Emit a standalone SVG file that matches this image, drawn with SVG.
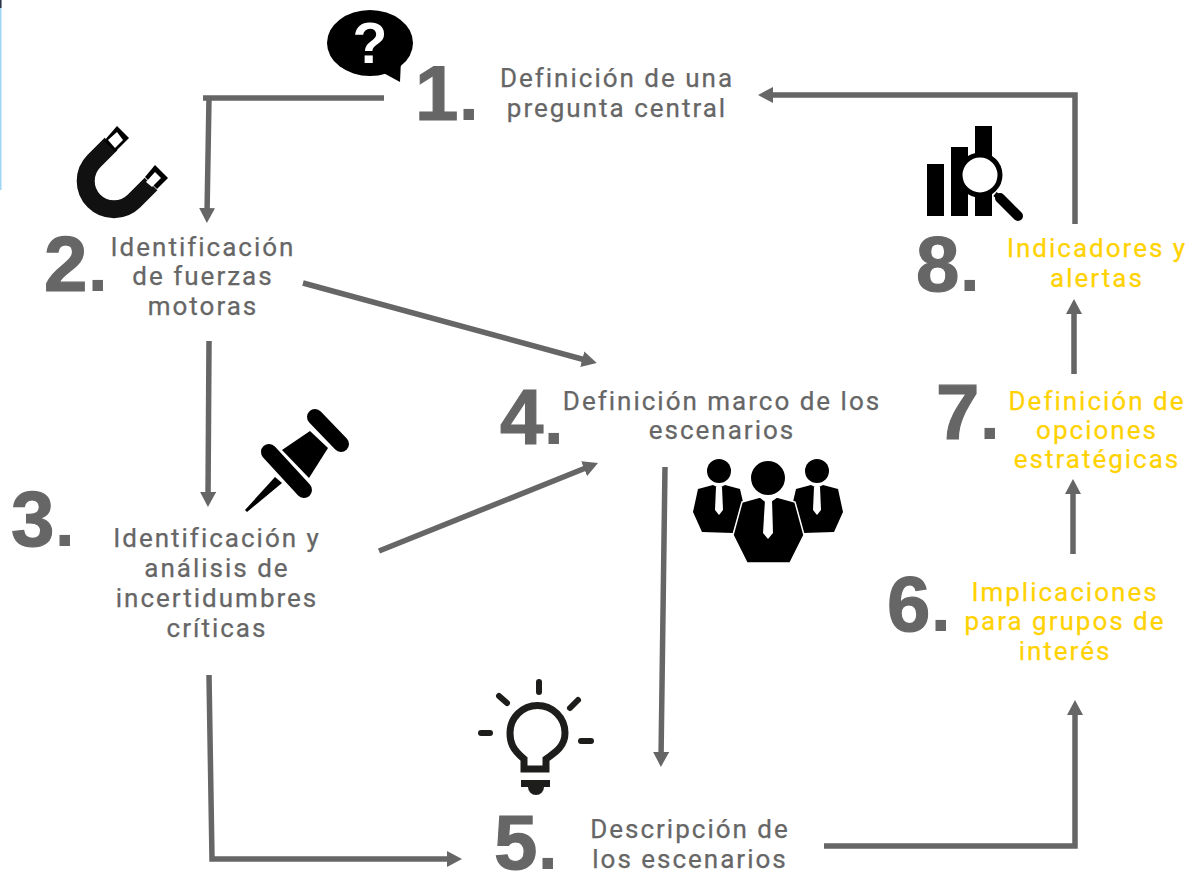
<svg xmlns="http://www.w3.org/2000/svg" width="1204" height="874" viewBox="0 0 1204 874">
<defs>
<marker id="ah" markerUnits="userSpaceOnUse" markerWidth="16" markerHeight="16" refX="7" refY="8" orient="auto"><path d="M0 0L15 8L0 16Z" fill="#666"/></marker>
</defs>
<style>
.n{font-family:"Liberation Sans",Arial,sans-serif;font-weight:700;font-size:78px;fill:#666;stroke:#666;stroke-width:1.2px}
.n tspan{stroke:none;font-size:74px}
.t{font-family:Roboto,"Noto Sans",sans-serif;font-size:26px;letter-spacing:2px;fill:#666;text-anchor:middle;stroke:#666;stroke-width:.25px}
.t.y{fill:#ffd200;stroke:#ffd200}
.c{fill:none;stroke:#666;stroke-width:5.5}
.k{fill:#000}
.w{fill:#fff}
</style>
<rect width="1204" height="874" fill="#fff"/>
<rect x="0" y="0" width="1.5" height="190" fill="#9fd6f2"/>
<rect x="0" y="0" width="1.5" height="8" fill="#334"/>
<g id="connectors">
<path class="c" d="M384 98H203"/><path class="c" d="M209 98L207 215" marker-end="url(#ah)"/>
<path class="c" d="M209 341L208 499" marker-end="url(#ah)"/>
<path class="c" d="M303 283L589 361" marker-end="url(#ah)"/>
<path class="c" d="M379 551L590.6 466" marker-end="url(#ah)"/>
<path class="c" d="M665 467L661 759" marker-end="url(#ah)"/>
<path class="c" d="M209 675L212 859H454" marker-end="url(#ah)"/>
<path class="c" d="M824 846H1075V708" marker-end="url(#ah)"/>
<path class="c" d="M1073 554V487" marker-end="url(#ah)"/>
<path class="c" d="M1074 374V307" marker-end="url(#ah)"/>
<path class="c" d="M1075 224V95H766" marker-end="url(#ah)"/>
</g>
<g id="node1">
<text class="n" x="415" y="120">1<tspan>.</tspan></text>
<text class="t" x="617" y="87">Definición de una</text><text class="t" x="617" y="117">pregunta central</text>
<ellipse class="k" cx="370" cy="43" rx="43" ry="33"/><path class="k" d="M378 70L400 82L401 60Z"/>
<text x="370" y="63" font-family="Liberation Sans,sans-serif" font-weight="700" font-size="57" fill="#fff" text-anchor="middle">?</text>
</g>
<g id="node2">
<text class="n" x="44" y="291">2<tspan>.</tspan></text>
<text class="t" x="203" y="256">Identificación</text><text class="t" x="203" y="285">de fuerzas</text><text class="t" x="203" y="315">motoras</text>
<path d="M111 144L94 161A28 28 0 0 0 134 201L151 184" fill="none" stroke="#111" stroke-width="18"/>
<path class="k" d="M117 126L129 138L115 152L104 141Z"/><path class="k" d="M155 165L168 178L157 189L145 177Z"/>
<path class="w" d="M108 140L117 132L123 140L115 148Z"/><path class="w" d="M146 182L155 172L161 178L152 187Z"/>
</g>
<g id="node3">
<text class="n" x="11" y="546">3<tspan>.</tspan></text>
<text class="t" x="217" y="547">Identificación y</text><text class="t" x="217" y="577">análisis de</text><text class="t" x="217" y="607">incertidumbres</text><text class="t" x="217" y="637">críticas</text>
<path d="M315 417L341 444" fill="none" stroke="#000" stroke-width="16" stroke-linecap="round"/>
<path d="M269 452L304 490" fill="none" stroke="#000" stroke-width="16" stroke-linecap="round"/>
<path class="k" d="M282 450L310 431L328 448L309 478Z"/>
<path class="k" d="M275 477L282 483L247 512L245 510Z"/>
</g>
<g id="node4">
<text class="n" x="500" y="444">4<tspan>.</tspan></text>
<text class="t" x="722" y="410">Definición marco de los</text><text class="t" x="722" y="439">escenarios</text>
<circle class="k" cx="719" cy="471" r="12"/><circle class="k" cx="817" cy="471" r="12"/>
<path class="k" d="M698 489L713 485L719 488L725 485L740 489L743 502L733 533L702 532L693 512Z"/>
<path class="k" d="M838 489L823 485L817 488L811 485L796 489L793 502L803 533L834 532L843 512Z"/>
<path class="k" stroke="#fff" stroke-width="1.5" d="M742 502L760 497L768 503L777 497L795 502L804 535L790 563H747L733 535Z"/>
<circle class="k" cx="768" cy="478" r="17"/>
<path class="w" d="M716 487H722L723 510L719 515L715 510Z"/><path class="w" d="M765 500H772L773 533L768 539L763 533Z"/><path class="w" d="M814 487H820L821 510L817 515L813 510Z"/>
</g>
<g id="node5">
<text class="n" x="494" y="869">5<tspan>.</tspan></text>
<text class="t" x="690" y="838">Descripción de</text><text class="t" x="690" y="868">los escenarios</text>
<g fill="none" stroke="#1d1d1b" stroke-width="6" stroke-linecap="round"><path d="M539 682V692"/><path d="M499 696L507 703"/><path d="M570 708L578 700"/><path d="M481 733H490"/><path d="M581 741H591"/></g>
<path d="M524 769V759C512 749 510 742 510 733A27 27 0 0 1 565 733C565 746 556 752 546 759V769Z" fill="none" stroke="#1d1d1b" stroke-width="7"/>
<path d="M521 780H550V787H544A8 8 0 0 1 528 787H521Z" fill="#1d1d1b"/>
</g>
<g id="node6">
<text class="n" x="887" y="631">6<tspan>.</tspan></text>
<text class="t y" x="1065" y="601">Implicaciones</text><text class="t y" x="1065" y="630">para grupos de</text><text class="t y" x="1065" y="660">interés</text>
</g>
<g id="node7">
<text class="n" x="936" y="439">7<tspan>.</tspan></text>
<text class="t y" x="1097" y="410">Definición de</text><text class="t y" x="1097" y="439">opciones</text><text class="t y" x="1097" y="468">estratégicas</text>
</g>
<g id="node8">
<text class="n" x="916" y="291">8<tspan>.</tspan></text>
<text class="t y" x="1097" y="257">Indicadores y</text><text class="t y" x="1097" y="287">alertas</text>
<rect class="k" x="927" y="164" width="17" height="52"/><rect class="k" x="951" y="147" width="17" height="69"/><rect class="k" x="975" y="126" width="17" height="90"/>
<circle cx="980" cy="175" r="20" fill="#fff" stroke="#000" stroke-width="5"/>
<path d="M995 194L1003 201" stroke="#000" stroke-width="5"/>
<path d="M1000 198L1018 216" stroke="#000" stroke-width="10" stroke-linecap="round"/>
</g>
</svg>
